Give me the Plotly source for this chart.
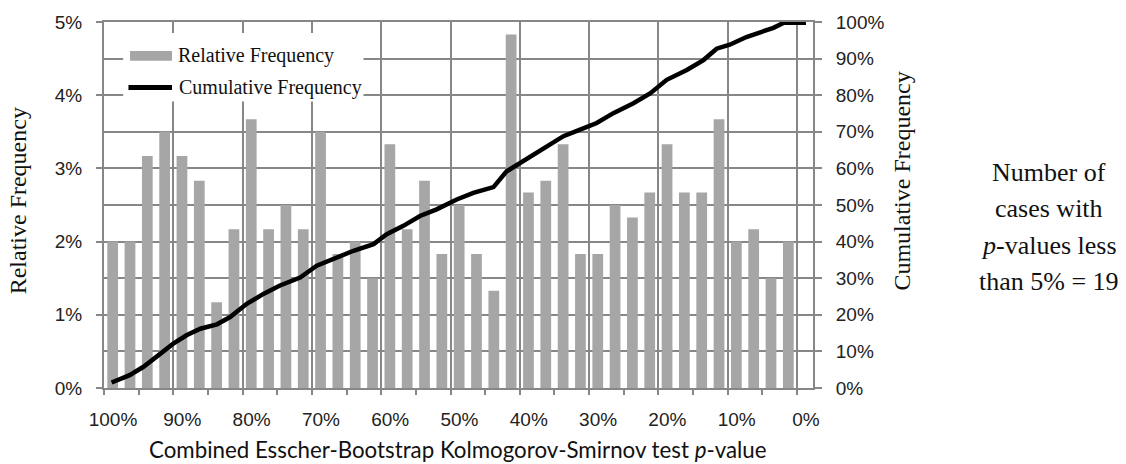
import plotly.graph_objects as go

# ---- data ----
bin_centers = [98.75, 96.25, 93.75, 91.25, 88.75, 86.25, 83.75, 81.25, 78.75, 76.25,
               73.75, 71.25, 68.75, 66.25, 63.75, 61.25, 58.75, 56.25, 53.75, 51.25,
               48.75, 46.25, 43.75, 41.25, 38.75, 36.25, 33.75, 31.25, 28.75, 26.25,
               23.75, 21.25, 18.75, 16.25, 13.75, 11.25, 8.75, 6.25, 3.75, 1.25]
relative_freq = [2.00, 2.00, 3.17, 3.50, 3.17, 2.83, 1.17, 2.17, 3.67, 2.17,
                 2.50, 2.17, 3.50, 1.83, 2.00, 1.50, 3.33, 2.17, 2.83, 1.83,
                 2.50, 1.83, 1.33, 4.83, 2.67, 2.83, 3.33, 1.83, 1.83, 2.50,
                 2.33, 2.67, 3.33, 2.67, 2.67, 3.67, 2.00, 2.17, 1.50, 2.00]
cum_p = [98.9, 96.3, 94.3, 92.4, 90.0, 88.1, 86.1, 83.7, 81.8, 79.4, 77.0, 74.6, 71.7,
         69.3, 66.9, 64.0, 61.1, 59.2, 56.8, 54.4, 52.0, 49.1, 46.7, 43.8, 41.9, 39.5,
         36.6, 33.7, 31.3, 28.9, 26.5, 23.6, 21.2, 18.8, 15.9, 13.5, 11.6, 9.7, 7.3,
         5.3, 3.4, 1.9, -1.3]
cum_freq = [1.5, 3.5, 5.8, 8.5, 12.1, 14.4, 16.2, 17.4, 19.4, 23.0, 25.7, 28.0, 30.2,
            33.4, 35.2, 37.5, 39.3, 42.0, 44.3, 47.0, 48.8, 51.5, 53.3, 54.9, 59.2, 62.0,
            65.6, 68.8, 70.6, 72.4, 75.1, 77.8, 80.5, 84.2, 86.9, 89.6, 92.7, 93.8, 95.9,
            97.3, 98.4, 99.8, 99.8]
legend_names = ["Relative Frequency", "Cumulative Frequency"]
note_lines = ["Number of", "cases with", "<i>p</i>-values less", "than 5% = 19"]

GRID = "#878787"
BAR = "#a6a6a6"
SERIF = "Liberation Serif, Times New Roman, serif"
SANS = "Liberation Sans, Arial, sans-serif"
TITLE_SANS = "Lato, Liberation Sans, sans-serif"

fig = go.Figure()
fig.add_trace(go.Bar(x=bin_centers, y=relative_freq, width=1.55, marker_color=BAR,
                     marker_line_width=0, name=legend_names[0], yaxis="y"))
fig.add_trace(go.Scatter(x=cum_p, y=cum_freq, mode="lines", line=dict(color="black", width=4.5),
                         name=legend_names[1], yaxis="y2"))

fig.update_layout(
    width=1126, height=464, margin=dict(l=104, r=313, t=20, b=76),
    paper_bgcolor="white", plot_bgcolor="white", showlegend=False,
    xaxis=dict(range=[100, -2.31], autorange=False, tick0=0, dtick=10, ticksuffix="%",
               showgrid=True, gridcolor=GRID, gridwidth=2, zeroline=False,
               showline=True, linecolor=GRID, linewidth=2, mirror=True,
               ticks="outside", ticklen=5, tickwidth=2, tickcolor=GRID,
               minor=dict(dtick=5, tick0=0, ticks="outside", ticklen=5, tickwidth=2,
                          tickcolor=GRID, showgrid=False),
               tickfont=dict(family=SANS, size=19, color="#222"),
               ticklabelstandoff=8, ticklabelshift=-9),
    yaxis=dict(range=[0, 5], autorange=False, dtick=1, ticksuffix="%",
               showgrid=True, gridcolor=GRID, gridwidth=2, zeroline=False,
               showline=True, linecolor=GRID, linewidth=2,
               ticks="outside", ticklen=6, tickwidth=2, tickcolor=GRID,
               minor=dict(dtick=0.5, showgrid=True, gridcolor=GRID, gridwidth=2),
               tickfont=dict(family=SANS, size=19, color="#222"),
               ticklabelstandoff=10),
    yaxis2=dict(range=[0, 100], autorange=False, dtick=10, ticksuffix="%",
                overlaying="y", side="right", showgrid=False, zeroline=False,
                showline=True, linecolor=GRID, linewidth=2,
                ticks="outside", ticklen=7, tickwidth=2, tickcolor=GRID,
                tickfont=dict(family=SANS, size=19, color="#222"),
                ticklabelstandoff=10),
)

# axis titles
fig.add_annotation(text="Combined Esscher-Bootstrap Kolmogorov-Smirnov test <i>p</i>-value",
                   xref="paper", yref="paper", x=0.499, y=0, yshift=-61,
                   xanchor="center", yanchor="middle", showarrow=False,
                   font=dict(family=TITLE_SANS, size=22.3, color="#111"))
fig.add_annotation(text="Relative Frequency", xref="paper", yref="paper", x=0, xshift=-86,
                   y=0.51, textangle=-90, xanchor="center", yanchor="middle",
                   showarrow=False, font=dict(family=SERIF, size=24, color="#111"))
fig.add_annotation(text="Cumulative Frequency", xref="paper", yref="paper", x=1, xshift=89,
                   y=0.564, textangle=-90, xanchor="center", yanchor="middle",
                   showarrow=False, font=dict(family=SERIF, size=24, color="#111"))

# side note
for i, line in enumerate(note_lines):
    fig.add_annotation(text=line, xref="paper", yref="paper", x=1, xshift=236,
                       y=1, yshift=-(150 + 36.5 * i), xanchor="center", yanchor="middle",
                       showarrow=False, font=dict(family=SERIF, size=26, color="#111"))

# legend (drawn box)
fig.add_shape(type="rect", xref="x domain", yref="y domain", x0=0.027, x1=0.366,
              y0=0.783, y1=0.970, fillcolor="white", line_width=0, layer="above")
fig.add_shape(type="rect", xref="x domain", yref="y domain", x0=0.0367, x1=0.0959,
              y0=0.894, y1=0.921, fillcolor=BAR, line_width=0, layer="above")
fig.add_shape(type="line", xref="x domain", yref="y domain", x0=0.0345, x1=0.0959,
              y0=0.8207, y1=0.8207, line=dict(color="black", width=5), layer="above")
fig.add_annotation(text=legend_names[0], xref="x domain", yref="y domain", x=0.102, y=0.908,
                   xanchor="left", yanchor="middle", showarrow=False,
                   font=dict(family=SERIF, size=20, color="#111"))
fig.add_annotation(text=legend_names[1], xref="x domain", yref="y domain", x=0.103, y=0.8207,
                   xanchor="left", yanchor="middle", showarrow=False,
                   font=dict(family=SERIF, size=20, color="#111"))

fig.write_html("out.html", config={"displayModeBar": False},
               post_script="document.body.style.margin='0';document.body.style.overflow='hidden';")
